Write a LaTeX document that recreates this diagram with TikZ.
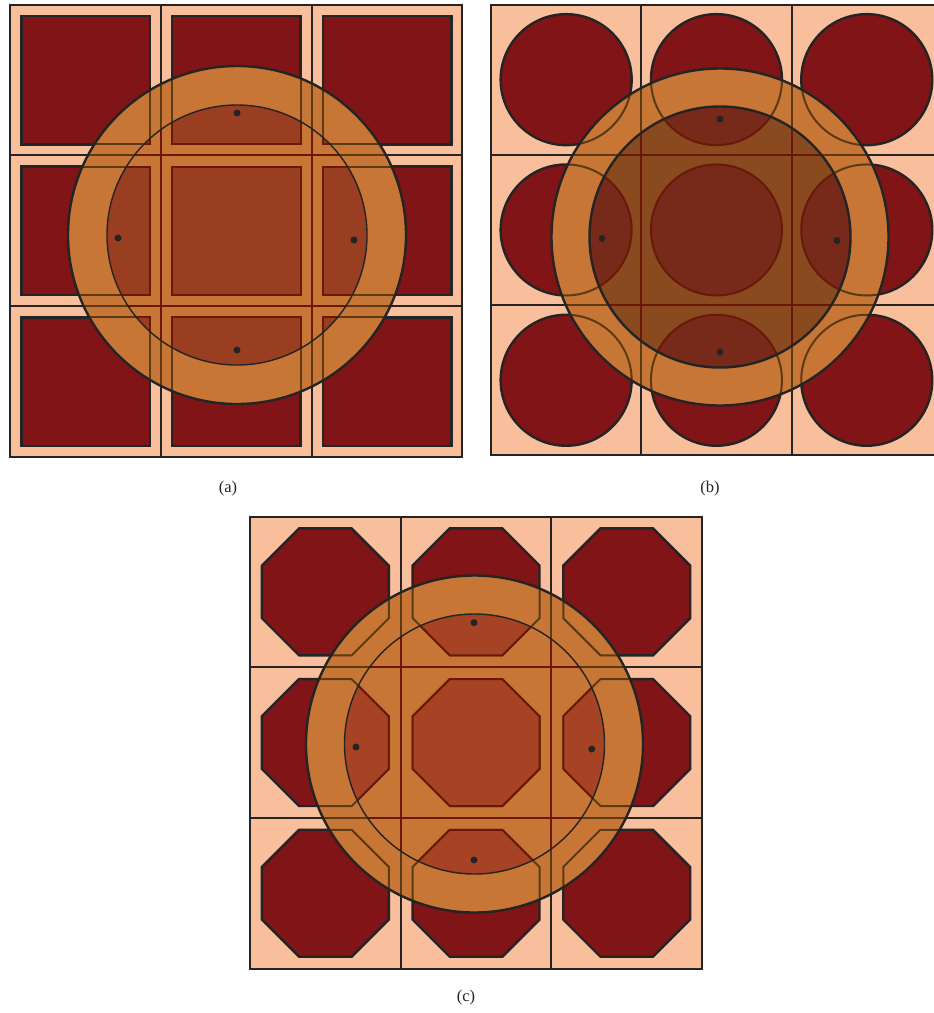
\documentclass[tikz,border=0pt]{standalone}
\usepackage{fontspec}
\setmainfont{Liberation Serif}
\definecolor{peach}{HTML}{F9BF9C}
\definecolor{cellred}{HTML}{801416}
\definecolor{ring}{HTML}{C87635}
\definecolor{browna}{HTML}{993E21}
\definecolor{brownc}{HTML}{A54324}
\definecolor{edgein}{HTML}{6A1808}
\definecolor{edgering}{HTML}{5C3A14}
\definecolor{darkb}{HTML}{8A4A20}
\definecolor{darkbc}{HTML}{77291A}
\definecolor{ink}{HTML}{242424}
% grid of a panel: #1 style, #2 x0, #3 y0, #4 cell size
\newcommand\drawgrid[4]{%
  \path[#1] (#2,#3) rectangle ++({3*#4},{3*#4})
    ({#2+#4},#3) -- ++(0,{3*#4}) ({#2+2*#4},#3) -- ++(0,{3*#4})
    (#2,{#3+#4}) -- ++({3*#4},0) (#2,{#3+2*#4}) -- ++({3*#4},0);}
\newcommand\sqshapes[4]{%
  \foreach \i in {0,1,2}{\foreach \j in {0,1,2}{%
    \path[#1] ({#2+#4*\i+11.3},{#3+#4*\j+11.3}) rectangle ++(128.5,128.5);}}}
\newcommand\circshapes[4]{%
  \foreach \i in {0,1,2}{\foreach \j in {0,1,2}{%
    \path[#1] ({#2+#4*\i+#4/2},{#3+#4*\j+#4/2}) circle[radius=65.5pt];}}}
\newcommand\octshapes[4]{%
  \foreach \i in {0,1,2}{\foreach \j in {0,1,2}{%
    \path[#1,shift={({#2+#4*\i+#4/2},{#3+#4*\j+#4/2})}]
      (22.5:68.7) -- (67.5:68.7) -- (112.5:68.7) -- (157.5:68.7) --
      (202.5:68.7) -- (247.5:68.7) -- (292.5:68.7) -- (337.5:68.7) -- cycle;}}}
\begin{document}
\begin{tikzpicture}[x=1pt,y=-1pt,
  frame/.style={draw=ink,line width=2pt},
  shapeout/.style={fill=cellred,draw=ink,line width=2.4pt},
  ringedge/.style={draw=edgering,line width=2pt},
  inneredge/.style={draw=edgein,line width=2pt},
  bigcirc/.style={draw=ink,line width=2.4pt},
  thincirc/.style={draw=ink,line width=1.4pt},
  dot/.style={fill=ink},
  lab/.style={font=\fontsize{16.5}{19}\selectfont,text=ink}]
\clip (0,0) rectangle (934,1013);
\fill[white] (0,0) rectangle (934,1013);

% ---------------- panel (a)
\fill[peach] (10,4.5) rectangle ++(452.4,452.4);
\sqshapes{shapeout}{10}{4.5}{150.8}
\drawgrid{frame}{10}{4.5}{150.8}
\fill[ring] (237,235) circle[radius=169pt];
\begin{scope}
  \clip (237,235) circle[radius=169pt];
  \sqshapes{ringedge}{10}{4.5}{150.8}
  \drawgrid{ringedge}{10}{4.5}{150.8}
\end{scope}
\begin{scope}
  \clip (237,235) circle[radius=130pt];
  \sqshapes{fill=browna,inneredge}{10}{4.5}{150.8}
  \drawgrid{inneredge}{10}{4.5}{150.8}
\end{scope}
\path[bigcirc] (237,235) circle[radius=169pt];
\path[thincirc] (237,235) circle[radius=130pt];
\foreach \p in {(237,113),(118,238),(354,240),(237,350)} \fill[dot] \p circle[radius=3.5pt];
\node[lab] (la) at (228,489) {(a)};

% ---------------- panel (b)
\fill[peach] (491,4.5) rectangle ++(450.9,450.9);
\circshapes{shapeout}{491}{4.5}{150.3}
\drawgrid{frame}{491}{4.5}{150.3}
\fill[ring] (720,237) circle[radius=168.5pt];
\begin{scope}
  \clip (720,237) circle[radius=168.5pt];
  \circshapes{ringedge}{491}{4.5}{150.3}
  \drawgrid{ringedge}{491}{4.5}{150.3}
\end{scope}
\fill[darkb] (720,237) circle[radius=130.5pt];
\begin{scope}
  \clip (720,237) circle[radius=130.5pt];
  \circshapes{fill=darkbc,inneredge}{491}{4.5}{150.3}
  \drawgrid{inneredge}{491}{4.5}{150.3}
\end{scope}
\path[bigcirc] (720,237) circle[radius=168.5pt];
\path[bigcirc] (720,237) circle[radius=130.5pt];
\foreach \p in {(720,119),(602,238.5),(837,240.5),(720,352)} \fill[dot] \p circle[radius=3.5pt];
\node[lab] (lb) at (710,489) {(b)};

% ---------------- panel (c)
\fill[peach] (250,516.5) rectangle ++(452.1,452.1);
\octshapes{shapeout}{250}{516.5}{150.7}
\drawgrid{frame}{250}{516.5}{150.7}
\fill[ring] (474.5,744) circle[radius=168.5pt];
\begin{scope}
  \clip (474.5,744) circle[radius=168.5pt];
  \octshapes{ringedge}{250}{516.5}{150.7}
  \drawgrid{ringedge}{250}{516.5}{150.7}
\end{scope}
\begin{scope}
  \clip (474.5,744) circle[radius=130pt];
  \octshapes{fill=brownc,inneredge}{250}{516.5}{150.7}
  \drawgrid{inneredge}{250}{516.5}{150.7}
\end{scope}
\path[bigcirc] (474.5,744) circle[radius=168.5pt];
\path[thincirc] (474.5,744) circle[radius=130pt];
\foreach \p in {(474,622.7),(356,747),(591.7,749),(474,860)} \fill[dot] \p circle[radius=3.5pt];
\node[lab] (lc) at (466,998) {(c)};
\end{tikzpicture}
\end{document}
